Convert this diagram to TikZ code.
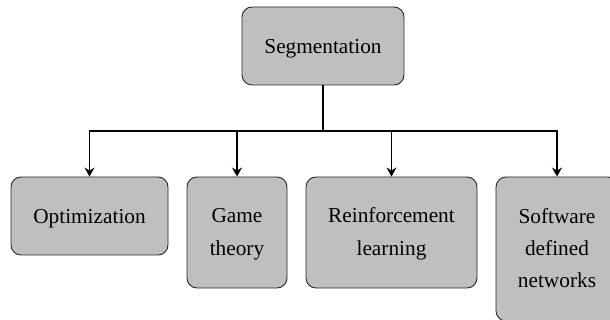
\documentclass[tikz,border=0pt]{standalone}
\usepackage{fontspec}
\setmainfont{Liberation Serif}
\usetikzlibrary{arrows.meta}
\newcommand{\mystack}[1]{\begin{tabular}{@{}c@{}}#1\end{tabular}}
\tikzset{
  boxbase/.style={draw=black!85, line width=0.9pt, fill=black!25, rounded corners=10pt,
    inner sep=0pt, font=\fontsize{21.3}{32.2}\selectfont},
  box/.style={boxbase, align=center,
    execute at begin node={\rule{0pt}{21pt}},
    execute at end node={\rule[-5pt]{0pt}{5pt}}},
  mbox/.style={boxbase},
  conn/.style={draw=black, line width=1.3pt},
  arr/.style={conn, -{Stealth[length=9pt,width=10pt,inset=3pt]}}
}
\begin{document}
\begin{tikzpicture}[x=1pt,y=-1pt]
\useasboundingbox (0,0) rectangle (610,320);
\clip (0,0) rectangle (610,320);
\node[box, minimum width=162pt, minimum height=78pt] (seg) at (323,46) {Segmentation};
\node[box, minimum width=157pt, minimum height=78pt] (opt) at (89.5,216) {Optimization};
\node[mbox, minimum width=100pt, minimum height=111pt] (game) at (237,232.5) {\mystack{Game\\theory}};
\node[mbox, minimum width=171pt, minimum height=111pt] (rl) at (391.5,232.5) {\mystack{Reinforcement\\learning}};
\node[mbox, minimum width=122pt, minimum height=144pt] (sdn) at (557,249) {\mystack{Software\\defined\\networks}};
\coordinate (j) at (323,131);
\draw[conn] (seg) -- (j);
\draw[arr] (j) -| (opt);
\draw[arr] (j) -| (game);
\draw[arr] (j) -| (rl);
\draw[arr] (j) -| (sdn);
\end{tikzpicture}
\end{document}
